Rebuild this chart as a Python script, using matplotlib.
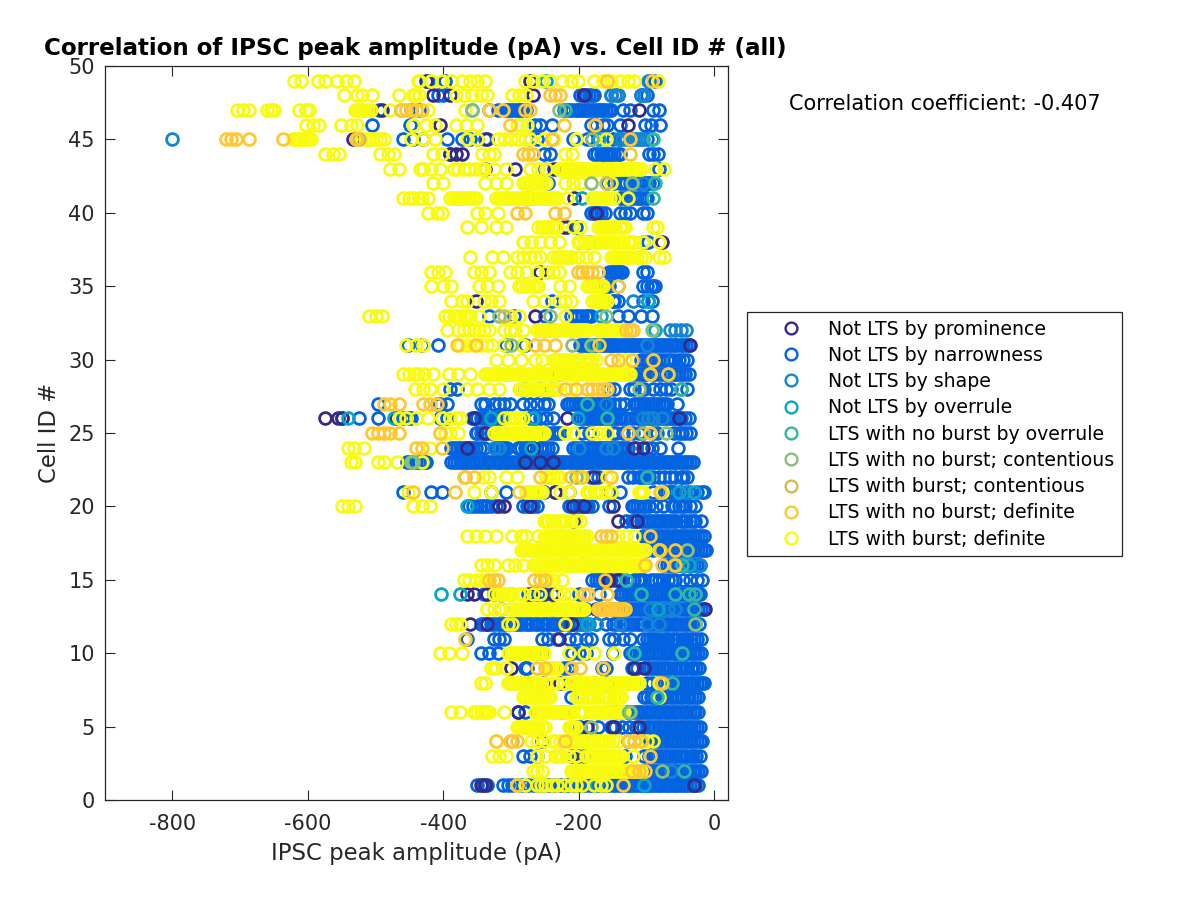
import matplotlib
matplotlib.use("Agg")
import matplotlib.pyplot as plt
from matplotlib.lines import Line2D

plt.rcParams["axes.unicode_minus"] = False

labels = ["Not LTS by prominence", "Not LTS by narrowness", "Not LTS by shape", "Not LTS by overrule",
          "LTS with no burst by overrule", "LTS with no burst; contentious", "LTS with burst; contentious",
          "LTS with no burst; definite", "LTS with burst; definite"]
colors = ["#352a87", "#0363e1", "#1485d4", "#06a7c6", "#2eb7a4", "#87bf77", "#d1bb59", "#fec832", "#f9fb0e"]

# x values (pA) by Cell ID
prominence = {
 1:[-345,-338,-30], 3:[-212], 4:[-255], 5:[-188,-150,-112], 6:[-290,-225], 8:[-252,-228], 9:[-300,-118,-104], 11:[-230],
 12:[-360,-335,-300,-220,-210], 13:[-315,-240,-175,-14], 14:[-365,-355,-335,-325,-315,-300,-270,-255,-238], 15:[-155,-142],
 19:[-208,-142,-115], 20:[-318,-310,-272,-208,-192,-150], 21:[-235], 22:[-178], 23:[-280,-258,-238], 24:[-365,-268,-118,-105],
 25:[-338], 26:[-575,-556,-549,-470,-355,-218,-52], 27:[-410], 31:[-36], 33:[-265], 34:[-352], 36:[-258], 38:[-78], 39:[-222],
 40:[-175], 41:[-207,-275], 43:[-338,-295,-237], 44:[-390,-382,-372], 45:[-534,-335,-430], 46:[-405,-128], 47:[-490,-112],
 48:[-415,-390,-268,-192], 49:[-425,-272],
}
narrow = {
 1:[-350,-342,-335,-312,-305,-298,-290,-282,-275,-268,-260,-254,-248,-243,-238,-233,-228,-224,-219,-214,-208,-203,-198,-194,-189,-184,-180,-175,-170,-164,-160,-155,-150,-146,-141,-136,-132,-128,-124,-120,-116,-112,-108,-104,-100,-96,-92,-88,-84,-80,-76,-72,-68,-64,-60,-56,-52,-48,-44,-40,-36,-32,-28,-24],
 2:[-110,-104,-100,-96,-92,-88,-84,-80,-76,-72,-68,-64,-60,-56,-53,-48,-44,-40,-36,-32,-28,-24,-20],
 3:[-282,-272,-262,-202,-192,-132,-104,-96,-90,-85,-80,-76,-72,-68,-64,-60,-56,-52,-48,-44,-40,-35,-31,-27,-22],
 4:[-128,-95,-90,-86,-82,-78,-74,-70,-66,-62,-58,-54,-50,-46,-42,-38,-34,-30,-26,-22,-19],
 5:[-204,-198,-172,-152,-146,-136,-126,-116,-106,-100,-96,-92,-88,-84,-80,-76,-72,-67,-62,-58,-54,-50,-46,-42,-38,-34,-30,-26,-22],
 6:[-290,-280,-148,-142,-137,-132,-128,-124,-120,-116,-112,-108,-104,-100,-96,-92,-88,-84,-80,-76,-72,-68,-64,-60,-56,-52,-48,-44,-40,-36,-32,-28,-24],
 7:[-212,-104,-99,-94,-90,-86,-82,-78,-74,-71,-66,-62,-58,-54,-50,-46,-41,-37,-33,-28,-24],
 8:[-160,-100,-92,-84,-78,-74,-70,-66,-62,-58,-54,-50,-46,-42,-38,-34,-30,-26,-22,-18,-16],
 9:[-280,-276,-222,-216,-166,-160,-122,-114,-100,-95,-90,-86,-82,-78,-74,-70,-65,-60,-56,-52,-48,-44,-40,-35,-31,-27,-23],
 10:[-345,-332,-320,-265,-255,-210,-200,-190,-150,-125,-120,-116,-112,-108,-104,-100,-96,-92,-88,-84,-80,-76,-72,-68,-64,-60,-56,-52,-48,-44,-40,-36,-32,-28,-24,-20],
 11:[-365,-325,-318,-310,-255,-245,-232,-215,-205,-190,-182,-155,-148,-135,-125,-105,-100,-95,-90,-86,-82,-76,-72,-68,-62,-58,-54,-48,-44,-40,-35,-30,-26,-20],
 12:[-345,-340,-335,-330,-325,-320,-315,-310,-305,-300,-295,-290,-285,-280,-275,-270,-265,-260,-255,-250,-245,-240,-235,-230,-225,-220,-215,-210,-205,-200,-195,-190,-175,-160,-150,-145,-140,-135,-130,-125,-120,-115,-110,-105,-100,-96,-92,-88,-84,-80,-76,-72,-68,-64,-60,-56,-52,-48,-44,-40,-36,-32,-28,-23],
 13:[-190,-150,-144,-132,-128,-124,-120,-116,-112,-108,-104,-100,-96,-92,-88,-84,-80,-76,-72,-68,-64,-60,-56,-52,-48,-44,-40,-36,-32,-28,-24,-20,-16],
 14:[-340,-275,-268,-260,-250,-240,-200,-170,-140,-136,-132,-128,-124,-120,-116,-112,-108,-104,-100,-96,-92,-88,-84,-80,-76,-72,-68,-64,-60,-56,-52,-48,-44,-40,-36,-32,-28,-24,-21],
 15:[-180,-175,-170,-166,-160,-152,-147,-142,-138,-118,-113,-108,-104,-94,-88,-82,-76,-68,-62,-58,-46,-36,-26,-18],
 16:[-76,-70,-66,-62,-58,-54,-50,-46,-42,-38,-34,-30,-26,-22],
 17:[-220,-194,-100,-90,-76,-72,-68,-64,-60,-56,-52,-48,-44,-40,-36,-32,-28,-24,-20,-16,-12],
 18:[-105,-100,-96,-92,-88,-84,-80,-76,-72,-68,-64,-60,-56,-52,-48,-44,-40,-36,-32,-28,-24,-20,-16],
 19:[-130,-122,-118,-114,-108,-104,-100,-96,-92,-88,-84,-80,-76,-72,-68,-64,-60,-56,-50,-46,-42,-36,-32,-28,-20],
 20:[-362,-356,-350,-345,-340,-335,-330,-322,-282,-277,-272,-267,-262,-215,-210,-205,-200,-195,-190,-186,-180,-155,-122,-118,-114,-110,-106,-102,-96,-86,-76,-62,-58,-52,-48,-44,-36,-28],
 21:[-460,-418,-402,-330,-308,-252,-235,-215,-155,-140,-90,-75,-70,-66,-62,-60,-50,-38,-26,-18,-16],
 22:[-182,-172,-128,-120,-112,-108,-104,-100,-96,-90,-82,-74,-66,-58,-50,-46,-40],
 23:[-454,-450,-446,-440,-436,-432,-428,-425,-388,-384,-380,-376,-372,-368,-364,-360,-356,-352,-348,-344,-340,-336,-332,-328,-324,-320,-316,-312,-308,-304,-300,-296,-292,-288,-284,-280,-276,-272,-268,-264,-260,-256,-252,-248,-244,-240,-236,-232,-228,-224,-220,-215,-211,-207,-203,-200,-196,-192,-188,-185,-181,-178,-174,-170,-166,-163,-159,-155,-151,-147,-143,-140,-136,-133,-129,-125,-121,-118,-114,-110,-106,-103,-99,-95,-91,-88,-84,-80,-76,-72,-68,-64,-60,-56,-52,-48,-44,-40,-36,-32],
 24:[-388,-384,-380,-376,-372,-368,-364,-360,-356,-352,-346,-340,-322,-318,-314,-310,-306,-290,-285,-280,-276,-272,-258,-254,-250,-245,-240,-208,-204,-200,-196,-192,-188,-184,-180,-176,-172,-168,-164,-160,-156,-152,-148,-144,-140,-136,-132,-128,-116,-100,-92,-80,-54],
 25:[-352,-350,-345,-342,-335,-330,-245,-240,-235,-232,-228,-195,-185,-180,-150,-145,-135,-128,-120,-112,-105,-90,-85,-60,-52,-48,-42,-36],
 26:[-549,-525,-497,-460,-450,-448,-405,-395,-358,-354,-350,-345,-340,-336,-332,-327,-322,-317,-312,-272,-265,-258,-248,-238,-198,-194,-190,-186,-182,-178,-175,-171,-168,-164,-160,-156,-152,-148,-145,-141,-138,-134,-130,-122,-115,-110,-106,-102,-98,-94,-90,-86,-82,-78,-74,-70,-66,-62,-58,-54,-50,-44,-38],
 27:[-497,-405,-395,-345,-338,-325,-318,-310,-302,-282,-272,-262,-252,-245,-218,-214,-210,-206,-202,-198,-194,-190,-186,-182,-178,-174,-170,-166,-162,-158,-155,-148,-140,-132,-118,-114,-110,-106,-102,-98,-94,-90,-86,-82,-78,-74,-70,-55],
 28:[-390,-380,-280,-258,-240,-155,-148,-125,-118,-110,-104,-90,-80,-72,-64,-50,-40],
 29:[-230,-122,-116,-110,-106,-102,-98,-92,-88,-82,-76,-70,-65,-60,-56,-52,-48,-44,-38],
 30:[-198,-108,-104,-100,-96,-92,-87,-82,-76,-70,-65,-60,-52,-46,-40],
 31:[-452,-432,-408,-308,-280,-198,-194,-190,-186,-182,-178,-175,-171,-168,-164,-160,-156,-153,-149,-146,-142,-138,-134,-130,-126,-122,-118,-115,-111,-108,-104,-100,-96,-92,-88,-85,-81,-78,-74,-70,-66,-62,-58,-55,-50,-46,-42,-38],
 33:[-332,-296,-250,-212,-206,-202,-196,-190,-186,-182,-142,-128,-108,-92],
 34:[-240,-150,-148,-142,-105,-98,-92], 35:[-162,-155,-105,-100,-94,-90,-88], 36:[-155,-151,-148,-145,-142,-139,-136,-105,-100],
 38:[-200,-185,-106,-98], 39:[-218,-205],
 40:[-182,-177,-172,-167,-162,-140,-132,-125,-105,-100], 41:[-140,-135,-130,-125,-120,-115,-110,-108,-103,-100],
 42:[-245,-158,-148,-140,-135,-130,-125,-120,-115,-110,-106,-102,-98,-96,-90],
 43:[-250,-165,-82], 44:[-390,-252,-242,-178,-173,-168,-164,-160,-156,-152,-148,-143,-140,-97,-90,-83],
 45:[-460,-445,-395,-372,-360,-350,-338,-272,-262,-240,-208,-188,-180,-172,-160,-150,-140,-100,-92],
 46:[-505,-449,-265,-258,-240,-182,-175,-165,-158,-140,-102,-94,-80],
 47:[-495,-448,-436,-332,-320,-308,-304,-300,-296,-292,-288,-285,-282,-278,-222,-218,-215,-210,-205,-201,-198,-194,-190,-186,-182,-178,-175,-171,-168,-164,-160,-156,-152,-135,-125,-90,-82],
 48:[-408,-400,-198,-194,-190,-185,-181,-178,-152,-142,-108,-100],
 49:[-422,-397,-96,-88],
}
shape = {
 2:[-64], 12:[-195,-185,-175,-140,-100,-82], 13:[-95,-68,-58], 24:[-325,-318,-200,-160,-150], 26:[-105,-98,-90,-78,-52],
 27:[-160], 31:[-100], 32:[-65,-58,-50,-42], 34:[-120], 42:[-105], 45:[-800,-142,-136,-130,-125,-120,-116,-112,-108,-105], 48:[-152,-147,-142,-108,-104], 49:[-98], 21:[-42],
 16:[-22],
}
overrule = {
 1:[-175,-104], 14:[-403,-375], 12:[-188], 13:[-84], 16:[-38], 21:[-52,-30], 26:[-540,-473,-330,-268,-202], 31:[-178],
 33:[-168], 24:[-270], 32:[-88], 34:[-98], 35:[-142], 20:[-365], 45:[-170], 49:[-248], 41:[-195],
}
nb_overrule = {
 7:[-85], 8:[-62], 2:[-45], 14:[-108,-58,-38,-28], 13:[-30], 10:[-118,-48], 22:[-100], 27:[-188], 41:[-90], 42:[-88], 45:[-90], 28:[-50], 29:[-68], 47:[-358,-220],
 26:[-158], 15:[-130], 16:[-48], 6:[-126],
}
nb_content = {
 2:[-78], 5:[-182], 12:[-28], 16:[-60], 17:[-40], 22:[-205], 23:[-445,-448], 25:[-72,-105], 28:[-112], 31:[-300,-210,-182], 32:[-92], 33:[-318,-242,-160], 42:[-182,-122], 45:[-180], 47:[-230,-358], 6:[-125],
}
b_content = {
 4:[-298], 22:[-368], 33:[-310], 47:[-462], 45:[-525], 42:[-160],
}
nb_definite = {
 1:[-292,-135], 2:[-122,-112,-102], 3:[-95], 4:[-322,-302,-292,-220,-128,-118,-108], 8:[-78], 9:[-262,-250,-212,-198,-165], 11:[-368], 13:[-172,-168,-164,-160,-156,-152,-148,-144,-140,-136,-132],
 14:[-192,-186,-158], 15:[-332,-326,-320,-266,-258,-250,-162], 16:[-102,-78,-58], 17:[-80,-58], 18:[-168,-160,-152,-95], 21:[-445,-383,-288,-80], 22:[-370,-355,-258,-212,-195,-152],
 24:[-432,-402,-440], 25:[-505,-497,-488,-478,-465,-405,-128,-95], 27:[-488,-478,-466,-430,-420,-410], 28:[-220,-205,-188,-180,-172,-165,-158], 29:[-95,-69],
 30:[-152,-142,-122,-90], 31:[-380,-352,-265,-252,-235,-170], 32:[-130,-125,-120], 35:[-142], 36:[-202,-195,-188,-180,-172], 40:[-292,-280,-235,-222], 44:[-282,-275,-268,-125], 46:[-302,-222,-176],
 45:[-721,-714,-706,-687,-637,-529,-240,-125], 47:[-463,-455,-448,-440,-432,-332,-312,-272,-280], 48:[-243,-235,-228], 49:[-158,-92],
}
b_definite = {
 1:[-292,-280,-262,-256,-250,-240,-232,-222,-212,-204,-196,-178,-168,-160],
 2:[-268,-262,-255,-212,-208,-205,-201,-198,-194,-190,-186,-182,-178,-175,-171,-168,-164,-160,-156,-152,-148,-145,-141,-138,-134,-130,-126,-122,-118,-115,-111,-108],
 3:[-328,-318,-308,-262,-250,-236,-232,-228,-225,-215,-205,-190,-186,-182,-178,-174,-170,-166,-162,-158,-154,-150,-146,-142,-138,-120],
 4:[-322,-270,-262,-252,-240,-235,-228,-215,-208,-204,-198,-194,-190,-186,-182,-178,-172,-168,-166,-162,-156,-150,-142,-118,-108,-100,-90],
 5:[-292,-288,-284,-280,-276,-272,-268,-264,-260,-255,-250,-215,-212,-208,-205],
 6:[-388,-375,-355,-350,-345,-340,-336,-332,-310,-265,-261,-258,-254,-250,-246,-240,-236,-232,-228,-225,-221,-218,-214,-210,-200,-196,-192,-180,-176,-172,-168,-165,-161,-158,-155,-152,-149,-146,-143,-140,-137,-134],
 7:[-282,-278,-274,-270,-266,-262,-258,-254,-250,-246,-242,-205,-200,-195,-190,-185,-182,-178,-172,-165,-160,-155,-150,-146,-142,-138,-82],
 8:[-345,-338,-305,-301,-298,-294,-290,-286,-282,-278,-275,-271,-268,-264,-260,-250,-240,-232,-222,-212,-208,-205,-201,-198,-195,-192,-188,-185,-181,-178,-175,-172,-168,-165,-155,-151,-148,-144,-140,-137,-134,-131,-128,-124,-120,-116,-112,-82],
 9:[-330,-326,-322,-308,-248,-244,-240,-236,-232],
 10:[-405,-392,-372,-305,-300,-298,-294,-290,-286,-282,-278,-275,-271,-268,-264,-260,-256,-252,-215,-192,-178,-148],
 12:[-388,-382,-376,-305,-298,-220],
 13:[-335,-325,-315,-302,-295,-290,-285,-281,-278,-274,-270,-266,-262,-258,-255,-251,-248,-244,-240,-236,-232,-228,-225,-221,-218,-215,-212,-208,-205,-201,-198,-195,-192],
 14:[-325,-320,-318,-314,-310,-306,-302,-298,-288,-282,-268,-258,-232,-222,-212],
 15:[-370,-362,-352,-345,-338,-245,-238,-225],
 16:[-345,-335,-325,-305,-295,-282,-268,-264,-260,-256,-252,-248,-245,-241,-238,-234,-230,-226,-222,-218,-215,-211,-208,-204,-200,-196,-192,-188,-185,-181,-178,-174,-170,-166,-162,-158,-155,-151,-148,-144,-140,-136,-132,-128,-125,-121,-118,-114,-110,-106,-102],
 17:[-285,-281,-278,-274,-270,-266,-262,-258,-255,-251,-248,-244,-240,-236,-232,-228,-225,-221,-218,-214,-210,-206,-202,-198,-195,-191,-188,-184,-180,-176,-172,-168,-165,-161,-158,-154,-150,-146,-142,-138,-135,-131,-128,-124,-120,-116,-112,-107,-102,-82],
 18:[-365,-352,-338,-322,-298,-285,-278,-260,-252,-248,-245,-241,-238,-234,-230,-226,-222,-218,-215,-211,-208,-204,-200,-196,-192,-188,-142,-130,-118],
 19:[-252,-248,-245,-240,-235,-230,-225,-220,-212,-205,-198],
 20:[-549,-540,-530,-445,-432,-420],
 21:[-452,-355,-330,-278,-274,-270,-266,-262,-258,-255,-228,-215,-188,-184,-178,-174,-168,-160,-152,-112,-108,-105,-78],
 22:[-342,-332,-308,-292,-248,-244,-238,-232,-228,-200,-158],
 23:[-537,-530,-497,-488,-468,-432],
 24:[-532,-540,-517,-420],
 25:[-405,-398,-390,-378,-325,-321,-318,-314,-310,-306,-302,-298,-295,-291,-288,-284,-280,-276,-272,-268,-265,-261,-258,-255,-252,-220,-208,-180,-170,-158],
 26:[-465,-455,-440,-422,-402,-390,-382,-375,-310,-302,-295,-288,-282],
 28:[-442,-430,-420,-400,-365,-350,-332,-318,-288,-285,-280,-275,-272,-268,-265,-262,-256,-250,-246,-240,-236,-232,-212,-205],
 29:[-460,-450,-437,-442,-428,-415,-392,-378,-360,-338,-334,-330,-326,-322,-318,-315,-311,-308,-304,-300,-296,-292,-288,-285,-281,-278,-274,-270,-266,-262,-258,-255,-251,-248,-244,-240,-236,-232,-227,-222,-218,-215,-211,-208,-204,-200,-196,-192,-188,-185,-181,-178,-174,-170,-166,-163,-159,-155,-151,-148,-144,-140,-136,-132,-128,-125,-95],
 30:[-322,-305,-285,-265,-255,-238,-234,-230,-226,-222,-218,-215,-210,-205,-200,-192,-188,-185,-180,-175,-132],
 31:[-455,-440,-430,-375,-365,-355,-345,-335,-328,-310,-285,-282],
 32:[-395,-378,-370,-362,-355,-348,-340,-332,-310,-302,-295,-282,-262,-258,-255,-251,-248,-244,-240,-236,-232,-228,-225,-221,-218,-214,-210,-206,-202,-198,-195,-191,-188,-172,-168,-165,-161,-158,-154,-150,-146,-142,-138,-135],
 33:[-510,-500,-490,-398,-392,-385,-380,-375,-370,-365,-360,-348,-302,-288,-220],
 34:[-388,-372,-365,-340,-330,-318,-268,-252,-230,-220,-212,-180,-176,-172,-168,-165,-162,-158],
 35:[-418,-400,-388,-348,-335,-320,-288,-284,-278,-274,-268,-264,-260,-228,-215,-188,-184,-180,-176,-172,-168,-165],
 36:[-418,-408,-398,-355,-345,-332,-302,-292,-278,-262,-248,-238,-230],
 37:[-361,-328,-312,-292,-282,-272,-265,-258,-238,-232,-228,-224,-220,-216,-212,-202,-190,-178,-152,-148,-145,-141,-138,-134,-130,-126,-122,-115,-108,-102,-82,-75],
 38:[-282,-270,-258,-242,-230,-202,-198,-192,-188,-182,-178,-172,-168,-162,-158,-152,-148,-142,-138,-135,-128,-124,-118,-105,-82],
 39:[-365,-345,-322,-308,-260,-255,-250,-245,-240,-236,-232,-208,-198,-172,-168,-165,-162,-158,-154,-150,-146,-140,-136,-132,-90,-85],
 40:[-422,-410,-402,-350,-338,-320],
 41:[-460,-450,-436,-445,-432,-422,-390,-386,-382,-378,-375,-371,-368,-364,-360,-356,-352,-322,-318,-315,-311,-308,-304,-300,-296,-292,-288,-285,-281,-278,-274,-270,-266,-262,-258,-255,-251,-248,-244,-240,-236,-232,-218,-180,-176,-172,-168,-165,-161,-158,-154,-148,-128],
 42:[-415,-400,-338,-322,-308,-282,-278,-274,-270,-266,-262,-258,-254,-248,-220,-208,-198,-152],
 43:[-478,-466,-434,-430,-418,-405,-385,-378,-370,-362,-354,-346,-340,-325,-308,-272,-260,-248,-230,-226,-222,-218,-215,-211,-207,-204,-200,-196,-192,-188,-185,-181,-178,-174,-170,-166,-162,-158,-155,-151,-148,-144,-140,-136,-132,-128,-125,-120,-116,-112,-108,-88,-75],
 44:[-574,-563,-554,-493,-482,-473,-415,-402,-343,-333,-325,-220,-210],
 45:[-622,-618,-615,-611,-607,-603,-600,-596,-522,-516,-510,-505,-500,-494,-488,-448,-430,-412,-365,-350,-320,-310,-300,-290,-280,-272,-252,-237,-205,-160],
 46:[-603,-593,-584,-551,-537,-527,-445,-425,-412,-382,-367,-350,-292,-285,-277],
 47:[-704,-695,-687,-660,-655,-650,-613,-603,-598,-530,-526,-522,-518,-515,-511,-507,-478,-422,-368],
 48:[-546,-527,-520,-505,-465,-445,-436,-442,-382,-370,-358,-345,-335,-298,-288,-278],
 49:[-620,-610,-585,-575,-557,-544,-532,-436,-438,-418,-402,-388,-372,-360,-350,-338,-280,-268,-255,-242,-225,-212,-202,-178,-165,-152,-140,-128,-118,-84],
}

fig = plt.figure(figsize=(12, 9), dpi=100)
ax = fig.add_axes([104.5/1200, 1-800/900, (728-104.5)/1200, (800-66)/900])
ink = "#262626"
series = [prominence, narrow, shape, overrule, nb_overrule, nb_content, b_content, nb_definite, b_definite]
draw_order = [1, 2, 0, 3, 8, 4, 5, 6, 7]
for z, i in enumerate(draw_order):
    xs, ys = [], []
    for cell, vals in series[i].items():
        xs += vals
        ys += [cell] * len(vals)
    ax.plot(xs, ys, ls="none", marker="o", ms=8.5, mfc="none", mec=colors[i], mew=2.0, zorder=2+z)

ax.set_xlim(-900, 20)
ax.set_ylim(0, 50)
ax.set_xticks([-800, -600, -400, -200, 0])
ax.set_yticks(range(0, 51, 5))
ax.tick_params(direction="in", top=True, right=True, length=7.2, width=0.8, colors=ink, labelsize=15)
ax.tick_params(axis="x", pad=10)
ax.tick_params(axis="y", pad=7)
for s in ax.spines.values():
    s.set_color(ink)
    s.set_linewidth(0.9)
ax.set_xlabel("IPSC peak amplitude (pA)", fontsize=16.4, color=ink, labelpad=5.5)
ax.set_ylabel("Cell ID #", fontsize=16.4, color=ink, labelpad=5.5)
fig.text(44/1200, 1-48/900, "Correlation of IPSC peak amplitude (pA) vs. Cell ID # (all)", fontsize=16.55, fontweight="bold", va="center", color="black")
fig.text(789/1200, 1-104/900, "Correlation coefficient: -0.407", fontsize=15.07, va="center", color="black")

handles = [Line2D([], [], ls="none", marker="o", ms=8.5, mfc="none", mec=c, mew=1.7) for c in colors]
leg = fig.legend(handles, labels, loc="upper left", bbox_to_anchor=(747/1200, 1-312/900), bbox_transform=fig.transFigure,
                 fontsize=13.6, frameon=True, fancybox=False, edgecolor=ink, framealpha=1, borderpad=0.4, borderaxespad=0,
                 labelspacing=0.385, handlelength=3.9, handletextpad=0.0)
leg.get_frame().set_linewidth(0.9)
fig.savefig("out.png", dpi=100)
